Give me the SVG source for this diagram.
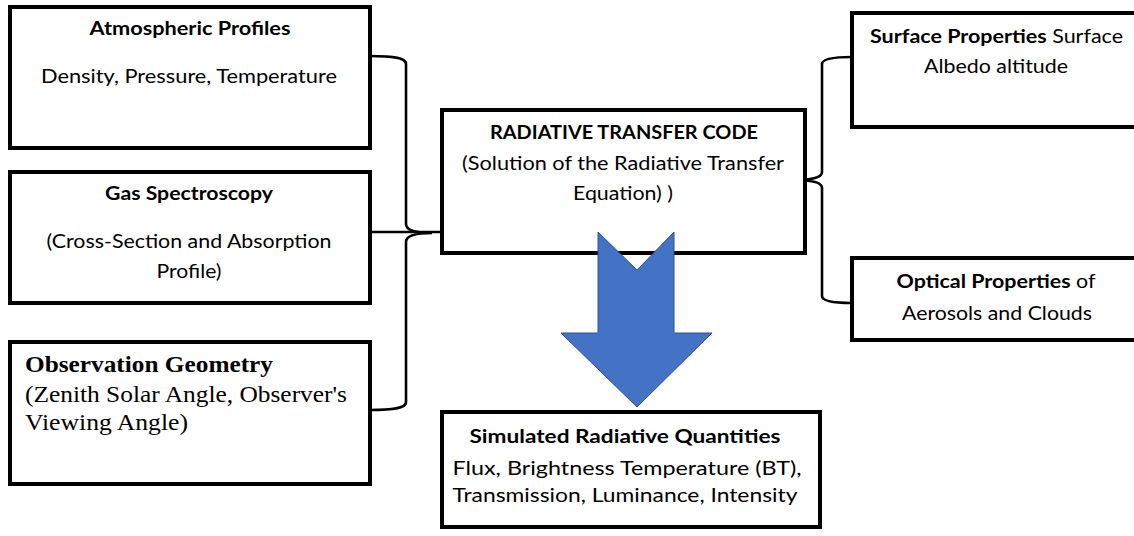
<svg xmlns="http://www.w3.org/2000/svg" width="1134" height="536" viewBox="0 0 1134 536">
  <style>
    .box { fill: #ffffff; stroke: #000000; stroke-width: 4; }
    .brace { fill: none; stroke: #000000; stroke-width: 2.6; }
    .t { font-family: Lato, "Open Sans", "Liberation Sans", sans-serif; font-size: 18.5px; fill: #000000; }
    .b { font-weight: bold; }
    .c { text-anchor: middle; }
    .s { font-family: "Liberation Serif", "Times New Roman", serif; font-size: 23px; fill: #000000; }
    .arrow { fill: #4472C4; stroke: #2F528F; stroke-width: 1; }
  </style>
  <rect width="1134" height="536" fill="#ffffff"/>

  <g id="connectors">
    <!-- left brace gathering the three input boxes -->
    <path class="brace" d="M370,56 C395,56 406,58 406,64 V224 C406,230 415,233 432,233 C415,233 406,236 406,242 V402 C406,408 395,410 370,410"/>
    <path class="brace" d="M370,232 H442"/>
    <!-- right brace gathering the surface and optical boxes -->
    <path class="brace" d="M852,57 C832,57 822,59 822,64 V172 C822,177 815,180 793,180 C815,180 822,183 822,188 V296 C822,301 832,303 852,303"/>
  </g>

  <g id="atmospheric-profiles">
    <rect class="box" x="10" y="7" width="360" height="141"/>
    <text class="t b c" x="190" y="35" textLength="201" lengthAdjust="spacingAndGlyphs">Atmospheric Profiles</text>
    <text class="t c" x="189" y="83" textLength="296" lengthAdjust="spacingAndGlyphs">Density, Pressure, Temperature</text>
  </g>

  <g id="gas-spectroscopy">
    <rect class="box" x="10" y="172" width="360" height="131"/>
    <text class="t b c" x="189" y="200" textLength="168" lengthAdjust="spacingAndGlyphs">Gas Spectroscopy</text>
    <text class="t c" x="189" y="248" textLength="285" lengthAdjust="spacingAndGlyphs">(Cross-Section and Absorption</text>
    <text class="t c" x="189" y="278" textLength="65" lengthAdjust="spacingAndGlyphs">Profile)</text>
  </g>

  <g id="observation-geometry">
    <rect class="box" x="10" y="342" width="360" height="142"/>
    <text class="s b" x="25" y="372" textLength="248" lengthAdjust="spacingAndGlyphs">Observation Geometry</text>
    <text class="s" x="25" y="402" textLength="322" lengthAdjust="spacingAndGlyphs">(Zenith Solar Angle, Observer's</text>
    <text class="s" x="25" y="430" textLength="163" lengthAdjust="spacingAndGlyphs">Viewing Angle)</text>
  </g>

  <g id="radiative-transfer-code">
    <rect class="box" x="442" y="110" width="363" height="143"/>
    <text class="t b c" x="624" y="139" textLength="268" lengthAdjust="spacingAndGlyphs">RADIATIVE TRANSFER CODE</text>
    <text class="t c" x="623" y="170" textLength="322" lengthAdjust="spacingAndGlyphs">(Solution of the Radiative Transfer</text>
    <text class="t c" x="623" y="200" textLength="100" lengthAdjust="spacingAndGlyphs">Equation) )</text>
  </g>

  <g id="surface-properties">
    <rect class="box" x="852" y="13" width="300" height="114"/>
    <text class="t" x="870" y="43" textLength="253" lengthAdjust="spacingAndGlyphs"><tspan class="b">Surface Properties</tspan> Surface</text>
    <text class="t c" x="996" y="73" textLength="144" lengthAdjust="spacingAndGlyphs">Albedo altitude</text>
  </g>

  <g id="optical-properties">
    <rect class="box" x="852" y="258" width="300" height="82"/>
    <text class="t c" x="996" y="288" textLength="199" lengthAdjust="spacingAndGlyphs"><tspan class="b">Optical Properties</tspan> of</text>
    <text class="t c" x="997" y="320" textLength="190" lengthAdjust="spacingAndGlyphs">Aerosols and Clouds</text>
  </g>

  <g id="flow-arrow">
    <polygon class="arrow" points="598,232 637,270 674,232 674,333 712,333 637,407 561,333 598,333"/>
  </g>

  <g id="simulated-quantities">
    <rect class="box" x="442" y="412" width="378" height="115"/>
    <text class="t b c" x="625" y="443" textLength="311" lengthAdjust="spacingAndGlyphs">Simulated Radiative Quantities</text>
    <text class="t c" x="627" y="475" textLength="349" lengthAdjust="spacingAndGlyphs">Flux, Brightness Temperature (BT),</text>
    <text class="t c" x="625" y="502" textLength="345" lengthAdjust="spacingAndGlyphs">Transmission, Luminance, Intensity</text>
  </g>
</svg>
